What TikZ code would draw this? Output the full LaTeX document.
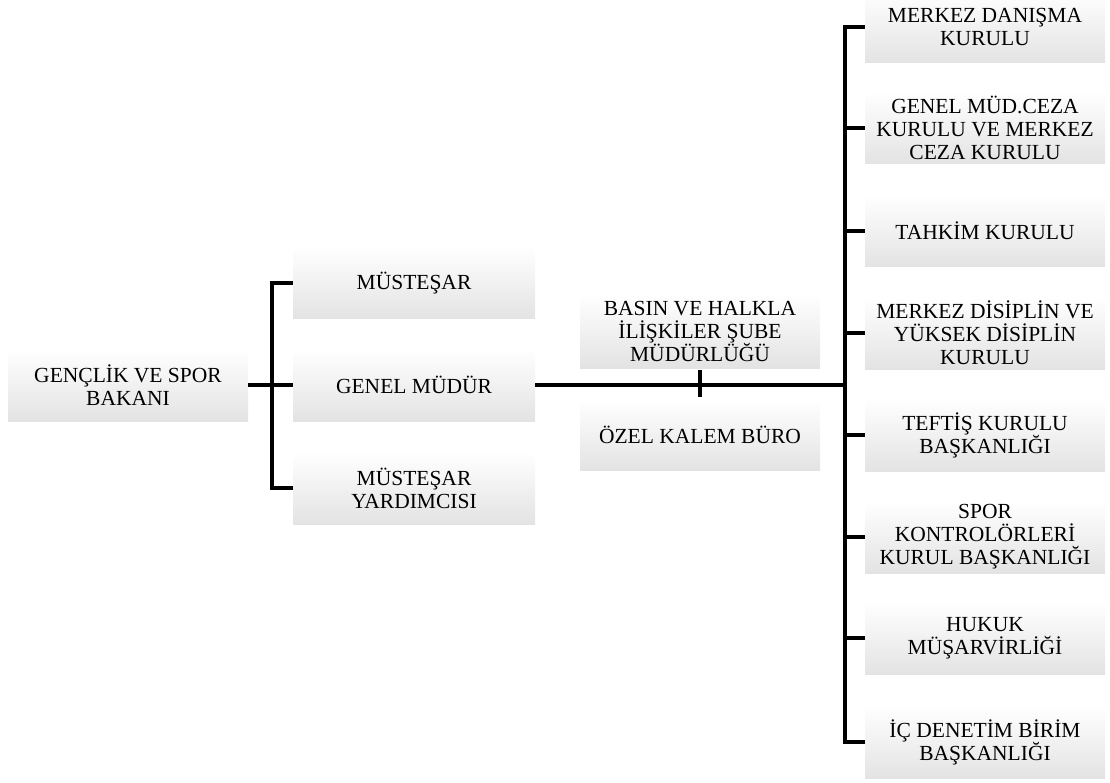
\documentclass[tikz,border=0pt]{standalone}
\usepackage{fontspec}
\setmainfont{Liberation Serif}
\usetikzlibrary{positioning}

\begin{document}
\begin{tikzpicture}[x=1pt, y=-1pt,
    every node/.style={font=\fontsize{21.5}{23}\selectfont, align=center},
    orgbox/.style={rectangle, minimum width=240pt, minimum height=72pt, inner sep=2pt,
      top color=white, middle color=white, bottom color=black!11},
    orgline/.style={line width=3.2pt},
    mainline/.style={line width=4.4pt}]
  \useasboundingbox (0,0) rectangle (1110,783);

  % left and middle column
  \node[orgbox] (bakan) at (128,385) {GENÇLİK VE SPOR\\BAKANI};
  \node[orgbox, minimum width=242pt] (mustesar) at (414,283) {MÜSTEŞAR};
  \node[orgbox, minimum width=242pt] (genmud) at (414,385) {GENEL MÜDÜR};
  \node[orgbox, minimum width=242pt] (mustyard) at (414,488) {MÜSTEŞAR\\YARDIMCISI};
  \node[orgbox, minimum height=74pt] (basin) at (700,331) {BASIN VE HALKLA\\İLİŞKİLER ŞUBE\\MÜDÜRLÜĞÜ};
  \node[orgbox, minimum height=70pt] (ozel) at (700,435) {ÖZEL KALEM BÜRO};

  % right column
  \node[orgbox] (danisma) at (985,27) {MERKEZ DANIŞMA\\KURULU};
  \node[orgbox] (ceza) at (985,128) {GENEL MÜD.CEZA\\KURULU VE MERKEZ\\CEZA KURULU};
  \node[orgbox] (tahkim) at (985,231) {TAHKİM KURULU};
  \node[orgbox] (disiplin) at (985,333) {MERKEZ DİSİPLİN VE\\YÜKSEK DİSİPLİN\\KURULU};
  \node[orgbox] (teftis) at (985,435) {TEFTİŞ KURULU\\BAŞKANLIĞI};
  \node[orgbox] (sporkont) at (985,537) {SPOR\\KONTROLÖRLERİ\\KURUL BAŞKANLIĞI};
  \node[orgbox] (hukuk) at (985,638) {HUKUK\\MÜŞARVİRLİĞİ};
  \node[orgbox] (icdenetim) at (985,742) {İÇ DENETİM BİRİM\\BAŞKANLIĞI};

  \coordinate (bus1) at (272,0);
  \coordinate (bus2) at (845,0);

  \draw[orgline] (bakan.east) -- (genmud.west);
  \draw[orgline] (mustesar.west) -| (bus1 |- mustyard.west) -- (mustyard.west);
  \draw[mainline] (genmud.east) -- (bus2 |- genmud.east);
  \draw[orgline, shorten <=2pt, shorten >=3pt] (basin.south) -- (ozel.north);
  \draw[orgline] (danisma.west) -| (bus2 |- icdenetim.west) -- (icdenetim.west);
  \foreach \n in {ceza, tahkim, disiplin, teftis, sporkont, hukuk}
    \draw[orgline] (\n.west) -- (bus2 |- \n.west);
\end{tikzpicture}
\end{document}
